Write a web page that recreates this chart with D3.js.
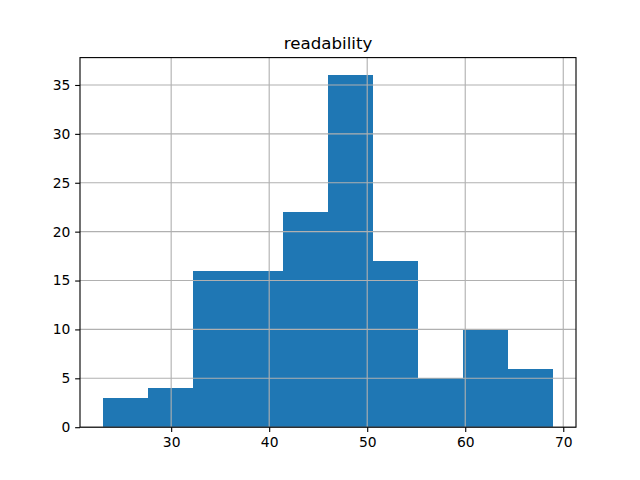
<!DOCTYPE html>
<html lang="en">
<head>
<meta charset="UTF-8">
<title>readability</title>
<script src="https://cdn.jsdelivr.net/npm/d3@7"></script>
<style>
  body { margin: 0; background: #fff; }
  text { font-family: "DejaVu Sans", sans-serif; }
</style>
</head>
<body>
<script>
    // histogram bins
    const binEdges = [23, 27.6, 32.2, 36.8, 41.4, 46, 50.6, 55.2, 59.8, 64.4, 69]
    const counts = [3, 4, 16, 16, 22, 36, 17, 5, 10, 6]
    const xTicks = [30, 40, 50, 60, 70]
    const yTicks = [0, 5, 10, 15, 20, 25, 30, 35]
    const title = 'readability'

    const [width, height] = [640, 480]
    const margin = {left: 80, right: 64, top: 57.6, bottom: 52.8}
    const innerW = width - margin.left - margin.right
    const innerH = height - margin.top - margin.bottom
    const pt = 100 / 72 // matplotlib points -> px at 100 dpi

    const bins = counts.map((c, i) => ({x0: binEdges[i], x1: binEdges[i + 1], n: c}))
    const span = binEdges[binEdges.length - 1] - binEdges[0]
    const x = d3.scaleLinear()
        .domain([binEdges[0] - span * 0.05, binEdges[binEdges.length - 1] + span * 0.05])
        .range([0, innerW])
    const y = d3.scaleLinear().domain([0, d3.max(counts) * 1.05]).range([innerH, 0])

    const svg = d3.select('body').append('svg')
        .attr('width', width)
        .attr('height', height)
    const g = svg.append('g').attr('transform', `translate(${margin.left},${margin.top})`)

    g.selectAll('rect.bar').data(bins).enter().append('rect')
        .attr('class', 'bar')
        .attr('x', d => x(d.x0))
        .attr('width', d => x(d.x1) - x(d.x0))
        .attr('y', d => y(d.n))
        .attr('height', d => innerH - y(d.n))
        .attr('fill', '#1f77b4')
        .attr('shape-rendering', 'crispEdges') // no seams between bins

    // grid lines sit above the bars, like matplotlib does
    g.selectAll('line.gx').data(xTicks).enter().append('line')
        .attr('x1', d => x(d)).attr('x2', d => x(d))
        .attr('y1', 0).attr('y2', innerH)
        .attr('stroke', '#b0b0b0').attr('stroke-width', 0.8 * pt)
    g.selectAll('line.gy').data(yTicks).enter().append('line')
        .attr('x1', 0).attr('x2', innerW)
        .attr('y1', d => y(d)).attr('y2', d => y(d))
        .attr('stroke', '#b0b0b0').attr('stroke-width', 0.8 * pt)

    const xAxis = g.append('g').attr('transform', `translate(0,${innerH})`)
        .call(d3.axisBottom(x).tickValues(xTicks).tickSize(3.5 * pt).tickPadding(3.5 * pt))
    const yAxis = g.append('g')
        .call(d3.axisLeft(y).tickValues(yTicks).tickSize(3.5 * pt).tickPadding(3.5 * pt))
    for (const ax of [xAxis, yAxis]) {
        ax.select('.domain').remove()
        ax.selectAll('line').attr('stroke', '#000').attr('stroke-width', 0.8 * pt)
        ax.selectAll('text').attr('font-size', 10 * pt + 'px')
            .attr('font-family', 'DejaVu Sans').attr('fill', '#000')
    }

    // frame
    g.append('rect')
        .attr('width', innerW).attr('height', innerH)
        .attr('fill', 'none').attr('stroke', '#000').attr('stroke-width', 0.8 * pt)

    g.append('text')
        .attr('x', innerW / 2).attr('y', -6 * pt)
        .attr('text-anchor', 'middle')
        .attr('font-size', 12 * pt + 'px')
        .text(title)
</script>
</body>
</html>
